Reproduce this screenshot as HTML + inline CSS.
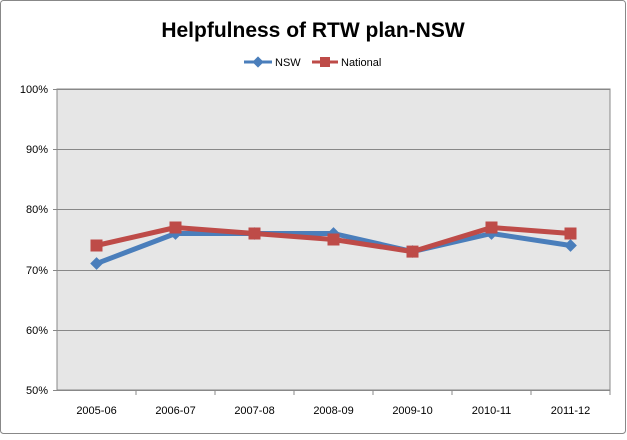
<!DOCTYPE html>
<html><head><style>body{margin:0;background:#fff}</style></head><body>
<svg width="627" height="435" xmlns="http://www.w3.org/2000/svg" font-family="Liberation Sans, sans-serif">
<rect x="0.5" y="0.5" width="625" height="433" fill="#fff" stroke="#888" rx="3"/>
<text x="313" y="37" text-anchor="middle" font-size="21" font-weight="bold">Helpfulness of RTW plan-NSW</text>
<line x1="244" y1="62" x2="272" y2="62" stroke="#4a7ebb" stroke-width="3"/>
<rect x="254" y="58" width="8" height="8" fill="#4a7ebb" transform="rotate(45 258 62)"/>
<text x="275" y="66" font-size="11">NSW</text>
<line x1="312" y1="62" x2="338" y2="62" stroke="#be4b48" stroke-width="3"/>
<rect x="320" y="57" width="10" height="10" fill="#be4b48"/>
<text x="341" y="66" font-size="11">National</text>
<rect x="57" y="89" width="553" height="301" fill="#e6e6e6" stroke="#888"/>
<g stroke="#888" stroke-width="1">
<line x1="53" y1="89.5" x2="610" y2="89.5"/>
<line x1="53" y1="149.5" x2="610" y2="149.5"/>
<line x1="53" y1="209.5" x2="610" y2="209.5"/>
<line x1="53" y1="270.5" x2="610" y2="270.5"/>
<line x1="53" y1="330.5" x2="610" y2="330.5"/>
<line x1="53" y1="390.5" x2="610" y2="390.5"/>
<line x1="136" y1="390" x2="136" y2="395"/><line x1="215" y1="390" x2="215" y2="395"/>
<line x1="294" y1="390" x2="294" y2="395"/><line x1="373" y1="390" x2="373" y2="395"/>
<line x1="452" y1="390" x2="452" y2="395"/><line x1="531" y1="390" x2="531" y2="395"/>
<line x1="610" y1="390" x2="610" y2="395"/>
</g>
<g font-size="11" text-anchor="end">
<text x="48" y="93">100%</text><text x="48" y="153">90%</text><text x="48" y="213">80%</text>
<text x="48" y="274">70%</text><text x="48" y="334">60%</text><text x="48" y="394">50%</text>
</g>
<g font-size="11" text-anchor="middle">
<text x="96.5" y="414">2005-06</text><text x="175.5" y="414">2006-07</text><text x="254.5" y="414">2007-08</text>
<text x="333.5" y="414">2008-09</text><text x="412.5" y="414">2009-10</text><text x="491.5" y="414">2010-11</text>
<text x="570.5" y="414">2011-12</text>
</g>
<polyline fill="none" stroke="#4a7ebb" stroke-width="5" stroke-linejoin="round" points="96.5,263.6 175.5,233.5 254.5,233.5 333.5,233.5 412.5,251.6 491.5,233.5 570.5,245.5"/>
<g fill="#4a7ebb">
<rect x="92" y="259" width="9" height="9" transform="rotate(45 96.5 263.6)"/>
<rect x="171" y="229" width="9" height="9" transform="rotate(45 175.5 233.5)"/>
<rect x="250" y="229" width="9" height="9" transform="rotate(45 254.5 233.5)"/>
<rect x="329" y="229" width="9" height="9" transform="rotate(45 333.5 233.5)"/>
<rect x="408" y="247" width="9" height="9" transform="rotate(45 412.5 251.6)"/>
<rect x="487" y="229" width="9" height="9" transform="rotate(45 491.5 233.5)"/>
<rect x="566" y="241" width="9" height="9" transform="rotate(45 570.5 245.5)"/>
</g>
<polyline fill="none" stroke="#be4b48" stroke-width="5" stroke-linejoin="round" points="96.5,245.5 175.5,227.5 254.5,233.5 333.5,239.5 412.5,251.6 491.5,227.5 570.5,233.5"/>
<g fill="#be4b48">
<rect x="90.5" y="239.5" width="12" height="12"/>
<rect x="169.5" y="221.5" width="12" height="12"/>
<rect x="248.5" y="227.5" width="12" height="12"/>
<rect x="327.5" y="233.5" width="12" height="12"/>
<rect x="406.5" y="245.6" width="12" height="12"/>
<rect x="485.5" y="221.5" width="12" height="12"/>
<rect x="564.5" y="227.5" width="12" height="12"/>
</g>
</svg>
</body></html>
